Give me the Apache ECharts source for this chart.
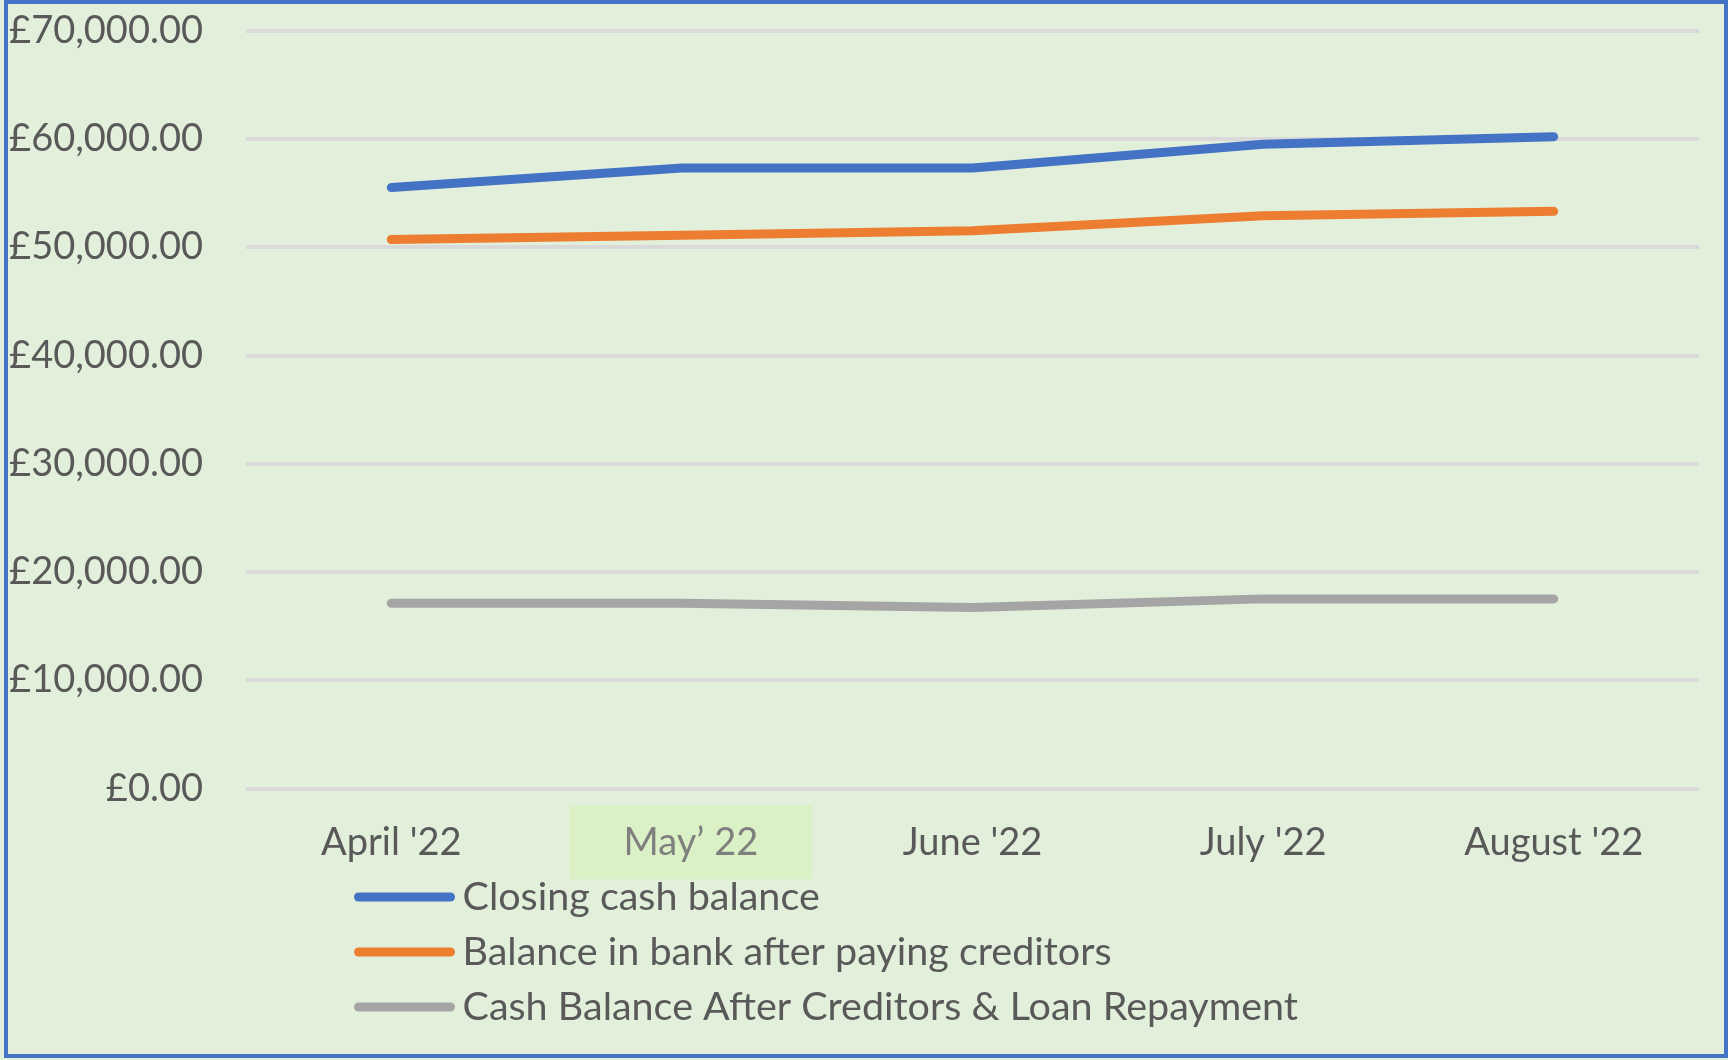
<!DOCTYPE html>
<html>
<head>
<meta charset="utf-8">
<script src="https://cdn.jsdelivr.net/npm/echarts@6/dist/echarts.min.js"></script>
<style>
html,body{margin:0;padding:0;background:#E2EFDA;}
#chart{width:1728px;height:1060px;}
</style>
</head>
<body>
<div id="chart"></div>
<script>
const categories = ["April '22", "May\u2019 22", "June '22", "July '22", "August '22"];
const closingCash = [55500, 57300, 57300, 59500, 60200];
const bankAfterCreditors = [50700, 51100, 51500, 52900, 53300];
const cashAfterLoan = [17100, 17100, 16700, 17500, 17500];
const seriesNames = ["Closing cash balance", "Balance in bank after paying creditors", "Cash Balance After Creditors & Loan Repayment"];

const FONT = 'Lato';
const chart = echarts.init(document.getElementById('chart'));

function fmt(v){
  return '\u00A3' + v.toFixed(2).replace(/\B(?=(\d{3})+(?!\d))/g, ',');
}

const mk = (name, data, color) => ({
  name, type: 'line', data, symbol: 'none', smooth: false,
  lineStyle: {color, width: 9, cap: 'round', join: 'round'},
  itemStyle: {color}
});

chart.setOption({
  backgroundColor: '#E2EFDA',
  animation: false,
  grid: {left: 246, right: 29, top: 30.6, bottom: 271.7, containLabel: false},
  xAxis: {
    type: 'category', data: categories, boundaryGap: true,
    axisLine: {show: false}, axisTick: {show: false},
    axisLabel: {
      interval: 0, margin: 17, fontFamily: FONT, fontSize: 38, color: '#595959',
      formatter: (v, i) => i === 1 ? '{sp|}{hl|' + v + '}' : '{n|' + v + '}',
      rich: {
        n: {fontFamily: FONT, fontSize: 38, color: '#595959', padding: [18, 20, 18, 20]},
        sp: {width: 18, fontSize: 38},
        hl: {fontFamily: FONT, fontSize: 38, color: '#7F7F7F', backgroundColor: '#D9F1C5', padding: [18, 54, 18, 54]}
      }
    }
  },
  yAxis: {
    type: 'value', min: 0, max: 70000, interval: 10000,
    axisLine: {show: false}, axisTick: {show: false},
    splitLine: {lineStyle: {color: '#D9D9D9', width: 4}},
    axisLabel: {margin: 43, fontFamily: FONT, fontSize: 38, color: '#595959', formatter: fmt}
  },
  legend: {
    orient: 'vertical', left: 349, top: 870,
    itemWidth: 92, itemHeight: 14, itemGap: 11,
    data: seriesNames,
    textStyle: {fontFamily: FONT, fontSize: 39.5, color: '#595959', lineHeight: 44, padding: [0, 0, 0, 7]},
    itemStyle: {opacity: 0},
    lineStyle: {width: 9, cap: 'round'}
  },
  graphic: [{
    type: 'rect', silent: true, z: 100,
    shape: {x: 6, y: 2, width: 1720, height: 1054},
    style: {fill: 'none', stroke: '#4472C4', lineWidth: 4}
  }],
  series: [
    mk(seriesNames[0], closingCash, '#4472C4'),
    mk(seriesNames[1], bankAfterCreditors, '#ED7D31'),
    mk(seriesNames[2], cashAfterLoan, '#A5A5A5')
  ]
});
</script>
</body>
</html>
